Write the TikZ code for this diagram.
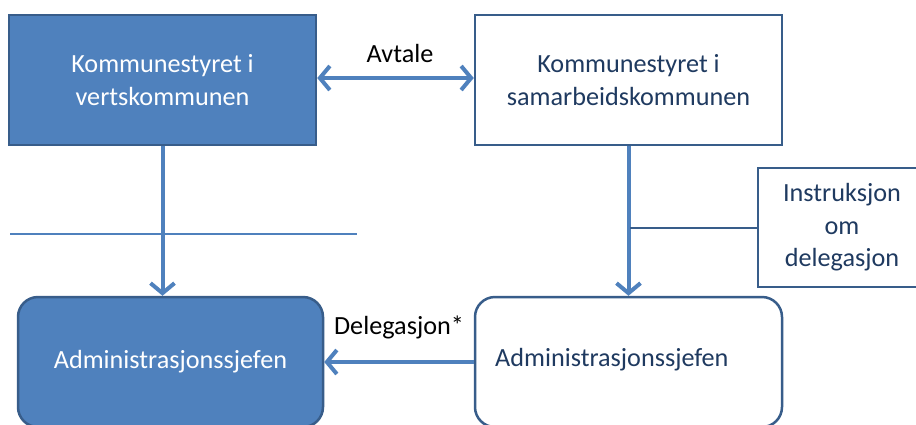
\documentclass[tikz,border=0pt]{standalone}
\usepackage{fontspec}
\setmainfont{Carlito}
\usetikzlibrary{arrows.meta}
\definecolor{fillblue}{HTML}{4F81BD}
\definecolor{edgeblue}{HTML}{385D8A}
\definecolor{txtblue}{HTML}{1F3A60}
\tikzset{
  base/.style={font=\fontsize{26.2}{32.5}\selectfont, align=center, inner sep=0pt, line width=2.5pt, draw=edgeblue},
  filledbox/.style={base, fill=fillblue, text=white},
  whitebox/.style={base, fill=white, text=txtblue},
  conn/.style={draw=fillblue, line width=4pt},
  tip/.style={-{Straight Barb[length=10pt,width=24pt]}},
  lbl/.style={font=\fontsize{26.2}{32.5}\selectfont, text=black, inner sep=0pt}
}
\begin{document}
\begin{tikzpicture}[x=1pt,y=-1pt]
\useasboundingbox (0,0) rectangle (916,424);
\clip (0,0) rectangle (916,424);
\fill[white] (0,0) rectangle (916,424);
% top boxes
\node[filledbox, minimum width=307pt, minimum height=130pt] (kv) at (162.5,80) {Kommunestyret i\\vertskommunen};
\node[whitebox, minimum width=307pt, minimum height=130pt] (ks) at (628.5,80) {Kommunestyret i\\samarbeidskommunen};
% bottom boxes
\node[filledbox, rounded corners=20pt, minimum width=305pt, minimum height=130pt] (asl) at (170.5,362) {Administrasjonssjefen};
\node[whitebox, rounded corners=20pt, minimum width=307pt, minimum height=130pt] (asr) at (628.5,362) {};
\node[lbl, text=txtblue, anchor=west] (asrt) at (495,360) {Administrasjonssjefen};
% instruction box
\node[whitebox, minimum width=168pt, minimum height=119pt] (instr) at (842,227.5) {Instruksjon\\om\\delegasjon};
% separator line
\coordinate (sepa) at (10,234);
\coordinate (sepb) at (357,234);
\draw[draw=fillblue, line width=1.5pt] (sepa) -- (sepb);
% connectors
\draw[conn, {Straight Barb[length=10pt,width=24pt]}-{Straight Barb[length=10pt,width=24pt]}] ([yshift=2pt]kv.east) -- ([yshift=2pt]ks.west);
\node[lbl] (avt) at (400,53) {Avtale};
\draw[conn, tip] (kv.south) -- (kv.south |- asl.north);
\draw[conn, tip] (ks.south) -- (asr.north);
\coordinate (junc) at (630,227.5);
\draw[draw=edgeblue, line width=2pt] (junc) -- (instr.west);
\draw[conn, tip] (asr.west) -- (asl.east);
\node[lbl] (del) at (399,327) {Delegasjon*};
\end{tikzpicture}
\end{document}
